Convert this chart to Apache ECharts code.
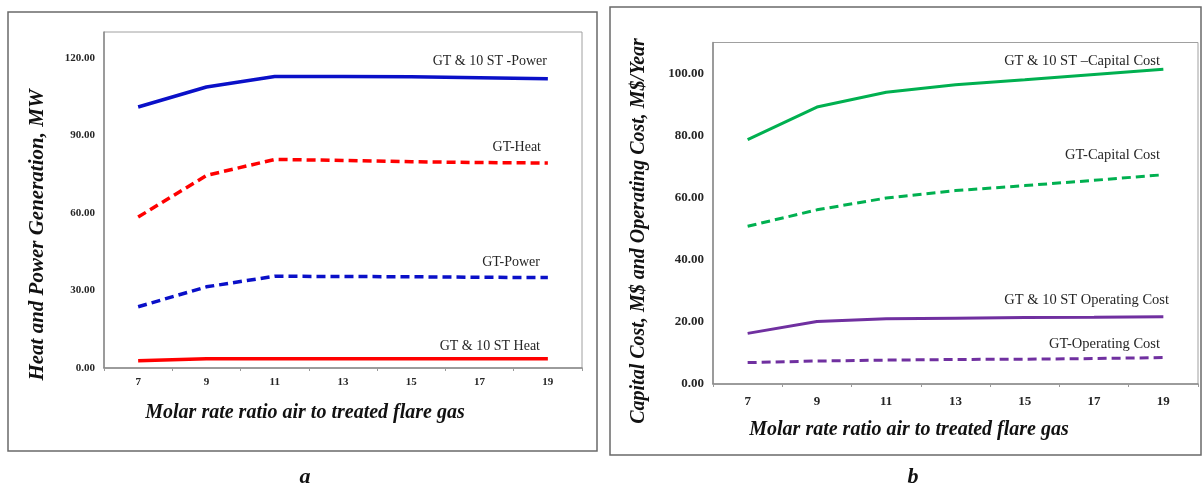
<!DOCTYPE html>
<html>
<head>
<meta charset="utf-8">
<script src="https://cdn.jsdelivr.net/npm/echarts@6/dist/echarts.min.js"></script>
<style>html,body{margin:0;padding:0;background:#fff}#c{width:1203px;height:484px}</style>
</head>
<body>
<div id="c"></div>
<script>
// ---- data ----
const ratios = ['7', '9', '11', '13', '15', '17', '19'];
// panel a (MW)
const gt10stPower = [101.0, 108.7, 112.8, 112.8, 112.7, 112.3, 111.9];
const gtHeat      = [58.4, 74.5, 80.7, 80.3, 79.8, 79.5, 79.3];
const gtPower     = [23.7, 31.4, 35.5, 35.4, 35.3, 35.1, 35.0];
const gt10stHeat  = [2.8, 3.6, 3.6, 3.6, 3.6, 3.6, 3.6];
// panel b (M$ and M$/Year)
const gt10stCapital   = [78.7, 89.2, 94.0, 96.4, 98.0, 99.7, 101.4];
const gtCapital       = [50.8, 56.1, 59.9, 62.3, 63.9, 65.6, 67.4];
const gt10stOperating = [16.3, 20.1, 21.0, 21.2, 21.4, 21.5, 21.7];
const gtOperating     = [6.9, 7.4, 7.7, 7.9, 8.0, 8.2, 8.5];
const xTitle = 'Molar rate ratio air to treated flare gas';
const yTitleA = 'Heat and Power Generation, MW';
const yTitleB = 'Capital Cost, M$ and Operating Cost, M$/Year';

const FONT = '"Liberation Serif", "Times New Roman", serif';
const TXT = '#262626';

function xAxis(gi) {
  return {
    type: 'category', gridIndex: gi, data: ratios, boundaryGap: true,
    axisLine: { lineStyle: { color: '#8a8a8a', width: 1.5 } },
    axisTick: { show: true, length: 3, lineStyle: { color: '#9a9a9a' } },
    axisLabel: { fontFamily: FONT, fontWeight: 'bold', fontSize: gi === 0 ? 11 : 13, color: TXT, margin: gi === 0 ? 9 : 11 },
    splitLine: { show: false }
  };
}
function yAxis(gi, max, interval, fs) {
  return {
    type: 'value', gridIndex: gi, min: 0, max: max, interval: interval,
    axisLine: { show: true, lineStyle: { color: '#8a8a8a', width: 1.5 } },
    axisTick: { show: false },
    splitLine: { show: false },
    axisLabel: { showMaxLabel: false, fontFamily: FONT, fontWeight: 'bold', fontSize: fs, color: TXT, margin: 9,
      formatter: v => v.toFixed(2) }
  };
}
function line(name, gi, data, color, dashed, w) {
  return {
    name: name, type: 'line', xAxisIndex: gi, yAxisIndex: gi, data: data,
    symbol: 'none', smooth: false, animation: false,
    lineStyle: { color: color, width: w, type: dashed ? [9, 5] : 'solid', cap: 'butt' }
  };
}
function txt(x, y, s, align, size, extra) {
  return Object.assign({
    type: 'text', x: x, y: y, silent: true,
    style: Object.assign({ text: s, fill: TXT, font: size + 'px ' + FONT, textAlign: align, textVerticalAlign: 'middle' }, extra || {})
  }, {});
}

const chart = echarts.init(document.getElementById('c'), null, { renderer: 'canvas' });
chart.setOption({
  animation: false,
  backgroundColor: '#fff',
  grid: [
    { left: 104, top: 32, width: 478, height: 336, show: true, borderColor: '#a0a0a0', borderWidth: 1 },
    { left: 713, top: 42.5, width: 485, height: 341.5, show: true, borderColor: '#a0a0a0', borderWidth: 1 }
  ],
  xAxis: [xAxis(0), xAxis(1)],
  yAxis: [yAxis(0, 130, 30, 11), yAxis(1, 110, 20, 13)],
  series: [
    line('GT & 10 ST -Power', 0, gt10stPower, '#0a10c8', false, 3.5),
    line('GT-Heat', 0, gtHeat, '#ff0000', true, 3.5),
    line('GT-Power', 0, gtPower, '#0a10c8', true, 3.5),
    line('GT & 10 ST Heat', 0, gt10stHeat, '#ff0000', false, 3.5),
    line('GT & 10 ST \u2013Capital Cost', 1, gt10stCapital, '#00b050', false, 3),
    line('GT-Capital Cost', 1, gtCapital, '#00b050', true, 3),
    line('GT & 10 ST Operating Cost', 1, gt10stOperating, '#7030a0', false, 3),
    line('GT-Operating Cost', 1, gtOperating, '#7030a0', true, 3)
  ],
  graphic: [
    { type: 'rect', shape: { x: 8, y: 12, width: 589, height: 439 }, style: { fill: 'none', stroke: '#6a6a6a', lineWidth: 1.5 }, silent: true },
    { type: 'rect', shape: { x: 610, y: 7, width: 591, height: 448 }, style: { fill: 'none', stroke: '#6a6a6a', lineWidth: 1.5 }, silent: true },
    txt(547, 61, 'GT & 10 ST -Power', 'right', 14),
    txt(541, 147, 'GT-Heat', 'right', 14),
    txt(540, 262, 'GT-Power', 'right', 14),
    txt(540, 346, 'GT & 10 ST Heat', 'right', 14),
    txt(1160, 61, 'GT & 10 ST \u2013Capital Cost', 'right', 14.5),
    txt(1160, 155, 'GT-Capital Cost', 'right', 14.5),
    txt(1169, 300, 'GT & 10 ST Operating Cost', 'right', 14.5),
    txt(1160, 344, 'GT-Operating Cost', 'right', 14.5),
    txt(305, 413, xTitle, 'center', 20, { font: 'italic bold 20px ' + FONT, fill: '#111' }),
    txt(909, 430, xTitle, 'center', 20, { font: 'italic bold 20px ' + FONT, fill: '#111' }),
    Object.assign(txt(38, 235, yTitleA, 'center', 21, { font: 'italic bold 21px ' + FONT, fill: '#111' }), { rotation: Math.PI / 2 }),
    Object.assign(txt(639, 231, yTitleB, 'center', 20, { font: 'italic bold 20px ' + FONT, fill: '#111' }), { rotation: Math.PI / 2 }),
    txt(305, 477, 'a', 'center', 22, { font: 'italic bold 22px ' + FONT, fill: '#111' }),
    txt(913, 477, 'b', 'center', 22, { font: 'italic bold 22px ' + FONT, fill: '#111' })
  ]
});
</script>
</body>
</html>
